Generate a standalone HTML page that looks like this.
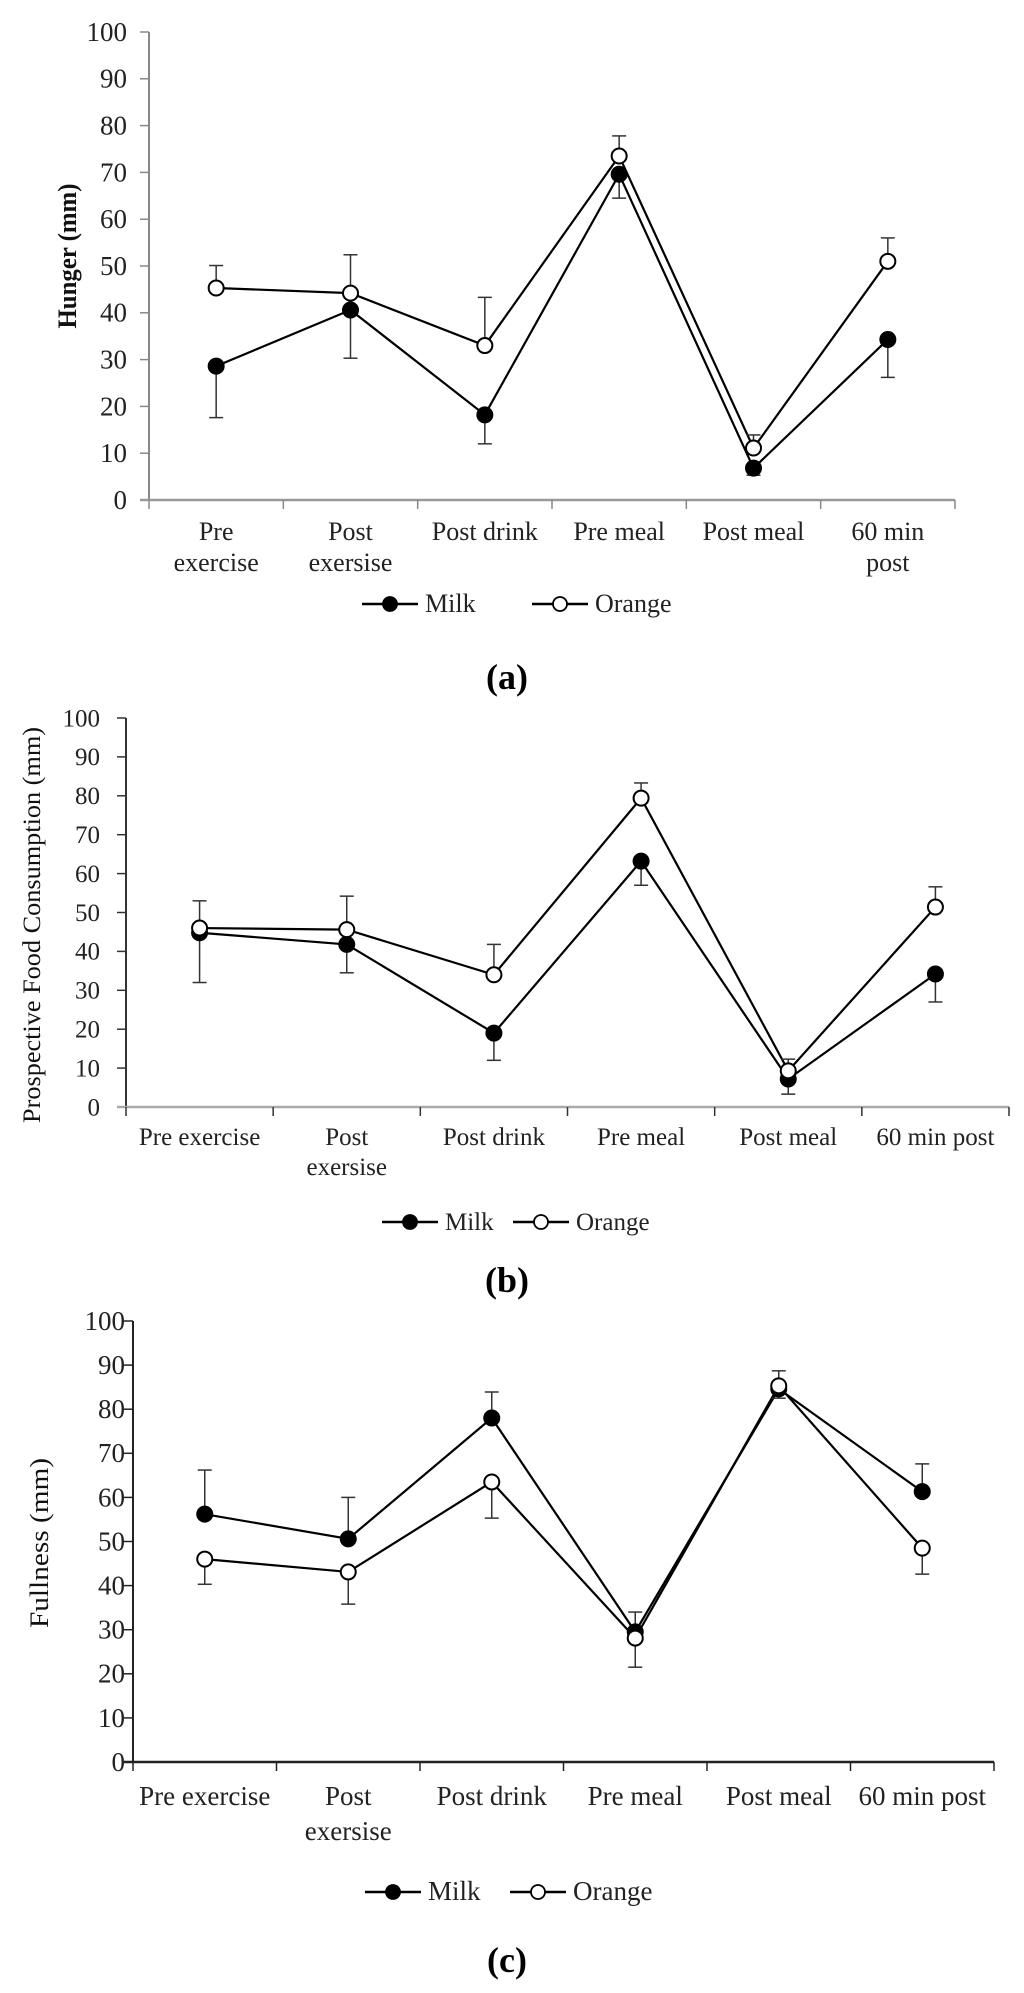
<!DOCTYPE html>
<html><head><meta charset="utf-8">
<style>
html,body{margin:0;padding:0;background:#fff;}
svg{display:block;font-family:"Liberation Serif",serif;}
</style></head>
<body>
<svg id="fig" width="1024" height="1993" viewBox="0 0 1024 1993" xmlns="http://www.w3.org/2000/svg"></svg>
<script>
// ---- data ----
const categoriesA = [["Pre","exercise"],["Post","exersise"],["Post drink"],["Pre meal"],["Post meal"],["60 min","post"]];
const categoriesB = [["Pre exercise"],["Post","exersise"],["Post drink"],["Pre meal"],["Post meal"],["60 min post"]];
const categoriesC = [["Pre exercise"],["Post","exersise"],["Post drink"],["Pre meal"],["Post meal"],["60 min post"]];
const yTicks = [0,10,20,30,40,50,60,70,80,90,100];
const seriesNames = ["Milk","Orange"];

const hungerMilk = [28.6, 40.6, 18.2, 69.6, 6.8, 34.3];
const hungerMilkErr = [-11, -10.3, -6.2, -5.1, -1.5, -8.1];
const hungerOrange = [45.3, 44.2, 33, 73.5, 11.1, 51];
const hungerOrangeErr = [4.8, 8.2, 10.3, 4.3, 2.8, 5];

const pfcMilk = [44.8, 41.8, 19, 63.2, 7.2, 34.2];
const pfcMilkErr = [-12.8, -7.3, -7, -6.2, -3.9, -7.2];
const pfcOrange = [46, 45.6, 34, 79.4, 9.3, 51.4];
const pfcOrangeErr = [7, 8.6, 7.8, 3.9, 3, 5.2];

const fullMilk = [56.2, 50.6, 78, 29.5, 84.6, 61.3];
const fullMilkErr = [10, 9.4, 5.9, 4.5, -2.1, 6.3];
const fullOrange = [46, 43.1, 63.5, 28.1, 85.3, 48.5];
const fullOrangeErr = [-5.7, -7.3, -8.2, -6.6, 3.4, -5.9];

const NS = "http://www.w3.org/2000/svg";
const svg = document.getElementById("fig");
function mk(tag, attrs, parent){
  const e = document.createElementNS(NS, tag);
  for (const k in attrs) e.setAttribute(k, attrs[k]);
  (parent||svg).appendChild(e);
  return e;
}

function panel(cfg){
  const g = mk("g", {});
  
  
  const n = cfg.cats.length;
  const step = (cfg.x1 - cfg.x0) / n;
  const xs = i => cfg.x0 + step * (i + 0.5);
  const ys = v => cfg.y0 - (v / 100) * (cfg.y0 - cfg.y100);

  // y axis
  const ya = mk("line", {x1:cfg.x0, y1:cfg.y100, x2:cfg.x0, y2:cfg.y0, stroke:cfg.axisColor, "stroke-width":2}, g);
  
  
  yTicks.forEach(t => {
    const y = ys(t);
    const tk = mk("line", {x1:cfg.x0-9, y1:y, x2:cfg.x0, y2:y, stroke:cfg.axisColor, "stroke-width":1.5}, g);
    
    
    const tl = mk("text", {x:cfg.labelRight, y:y + cfg.tickFont*0.33, "text-anchor":"end", "font-size":cfg.tickFont, fill:"#222"}, g);
    tl.textContent = t;
    
    
  });
  // x axis
  const xa = mk("line", {x1:cfg.x0-9, y1:cfg.y0, x2:cfg.x1, y2:cfg.y0, stroke:cfg.xAxisColor, "stroke-width":2.5}, g);
  
  
  for (let i = 0; i <= n; i++){
    const x = cfg.x0 + step * i;
    const tk = mk("line", {x1:x, y1:cfg.y0, x2:x, y2:cfg.y0+9, stroke:cfg.axisColor, "stroke-width":1.5}, g);
    
    
  }
  cfg.cats.forEach((lines, i) => {
    lines.forEach((ln, j) => {
      const t = mk("text", {x:xs(i), y:cfg.xLab1 + j*cfg.xLabGap, "text-anchor":"middle", "font-size":cfg.xFont, fill:"#222"}, g);
      t.textContent = ln;
      
      
    });
  });
  // y title
  const yt = mk("text", {x:0, y:0, transform:`translate(${cfg.titleX},${cfg.titleY}) rotate(-90)`, "text-anchor":"middle", "font-size":cfg.titleFont, "font-weight":cfg.titleBold?"bold":"normal", fill:"#111", textLength:cfg.titleLen, lengthAdjust:"spacingAndGlyphs"}, g);
  yt.textContent = cfg.title;
  
  

  const series = [
    {name:"milk", vals:cfg.milk, err:cfg.milkErr, fill:"#000"},
    {name:"orange", vals:cfg.orange, err:cfg.orangeErr, fill:"#fff"}
  ];
  // lines
  series.forEach(s => {
    const pts = s.vals.map((v,i) => `${xs(i)},${ys(v)}`).join(" ");
    const pl = mk("polyline", {points:pts, fill:"none", stroke:"#000", "stroke-width":2.2}, g);
    
    
  });
  // error bars
  series.forEach(s => {
    s.vals.forEach((v,i) => {
      const x = xs(i), yv = ys(v), ye = ys(v + s.err[i]);
      const eg = mk("g", {stroke:"#333", "stroke-width":1.5}, g);
      
      
      mk("line", {x1:x, y1:yv, x2:x, y2:ye}, eg);
      mk("line", {x1:x-7, y1:ye, x2:x+7, y2:ye}, eg);
    });
  });
  // markers
  series.forEach(s => {
    s.vals.forEach((v,i) => {
      const c = mk("circle", {cx:xs(i), cy:ys(v), r:7.5, fill:s.fill, stroke:"#000", "stroke-width":2}, g);
      
      
    });
  });
  // legend
  const lg = mk("g", {}, g);
  
  
  [[cfg.legMilk, "#000", seriesNames[0]], [cfg.legOrange, "#fff", seriesNames[1]]].forEach(([cx, f, nm]) => {
    const le = mk("g", {}, lg);
    
    
    mk("line", {x1:cx-28, y1:cfg.legY, x2:cx+28, y2:cfg.legY, stroke:"#000", "stroke-width":2.5}, le);
    mk("circle", {cx:cx, cy:cfg.legY, r:7, fill:f, stroke:"#000", "stroke-width":1.8}, le);
    const t = mk("text", {x:cx+35, y:cfg.legY+8, "font-size":cfg.xFont, fill:"#222"}, le);
    t.textContent = nm;
  });
  // panel label
  const pl = mk("text", {x:507, y:cfg.panelY+12, "text-anchor":"middle", "font-size":36, "font-weight":"bold", fill:"#000"}, g);
  pl.textContent = "(" + cfg.id.slice(-1) + ")";
  
  
}

panel({id:"panel-a", cats:categoriesA, x0:149, x1:955, y0:500, y100:32,
  axisColor:"#888", xAxisColor:"#999", tickFont:27, labelRight:127, xFont:26, xLab1:540, xLabGap:31,
  title:"Hunger (mm)", titleX:76, titleY:256, titleFont:26, titleBold:true, titleLen:145,
  milk:hungerMilk, milkErr:hungerMilkErr, orange:hungerOrange, orangeErr:hungerOrangeErr,
  legY:604, legMilk:390, legOrange:560, panelY:677});

panel({id:"panel-b", cats:categoriesB, x0:126, x1:1009, y0:1107, y100:718,
  axisColor:"#333", xAxisColor:"#aaa", tickFont:25, labelRight:100, xFont:25, xLab1:1145, xLabGap:30,
  title:"Prospective Food Consumption (mm)", titleX:40, titleY:925, titleFont:25, titleBold:false, titleLen:396,
  milk:pfcMilk, milkErr:pfcMilkErr, orange:pfcOrange, orangeErr:pfcOrangeErr,
  legY:1222, legMilk:410, legOrange:541, panelY:1280});

panel({id:"panel-c", cats:categoriesC, x0:133, x1:994, y0:1762, y100:1321,
  axisColor:"#222", xAxisColor:"#222", tickFont:27, labelRight:125, xFont:27, xLab1:1805, xLabGap:35,
  title:"Fullness (mm)", titleX:48, titleY:1543, titleFont:26, titleBold:false, titleLen:170,
  milk:fullMilk, milkErr:fullMilkErr, orange:fullOrange, orangeErr:fullOrangeErr,
  legY:1892, legMilk:393, legOrange:538, panelY:1960});
</script>
</body></html>
